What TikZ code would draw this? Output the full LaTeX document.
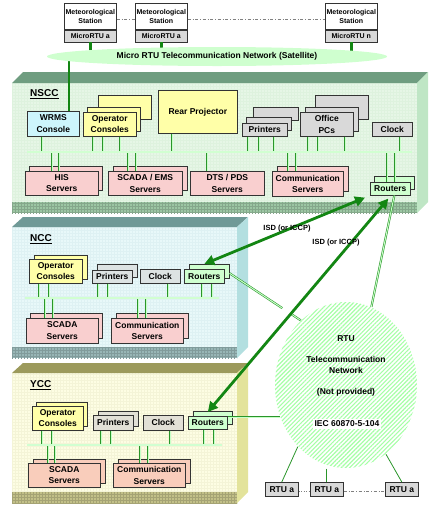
\documentclass[tikz,border=0pt]{standalone}
\usepackage{fontspec}
\setmainfont{Liberation Sans}
\usetikzlibrary{arrows.meta,shapes.geometric,shadows,patterns,patterns.meta,calc}

\definecolor{verde}{HTML}{2A952A}
\definecolor{verdeosc}{HTML}{138613}
\definecolor{amarillo}{HTML}{FFFFA8}
\definecolor{gris}{HTML}{D9D9D9}
\definecolor{grisazul}{HTML}{DDE3E3}
\definecolor{grisocre}{HTML}{E2E0D6}
\definecolor{rosa}{HTML}{F9CFCF}
\definecolor{salmon}{HTML}{F9CDBB}
\definecolor{celeste}{HTML}{CDF5FC}
\definecolor{verdeclaro}{HTML}{CFFFCF}
% caras de los marcos
\definecolor{nsccfr}{HTML}{E6F6E6}
\definecolor{nsccgr}{HTML}{DEF2DE}
\definecolor{nsccup}{HTML}{6F9D80}
\definecolor{nsccld}{HTML}{BFE6C5}
\definecolor{nsccbd}{HTML}{9CC6A3}
\definecolor{nccfr}{HTML}{E8F8F9}
\definecolor{nccgr}{HTML}{DEF1F3}
\definecolor{nccup}{HTML}{709A97}
\definecolor{nccld}{HTML}{B3DFE0}
\definecolor{nccbd}{HTML}{98B6B6}
\definecolor{yccfr}{HTML}{FDFDE3}
\definecolor{yccgr}{HTML}{F4F4D7}
\definecolor{yccup}{HTML}{9C9A5C}
\definecolor{yccld}{HTML}{E3E39B}
\definecolor{yccbd}{HTML}{C2C088}

\newcommand{\etiq}{\fontsize{8.5}{11.5}\selectfont\bfseries}
\newcommand{\pequ}{\fontsize{7}{9}\selectfont\bfseries}
\newcommand{\titu}{\fontsize{10}{12}\selectfont\bfseries}

\tikzset{
  caja/.style={draw=black!80, line width=0.6pt, inner sep=0pt, anchor=north west, align=center, font=\etiq},
  tam/.style 2 args={minimum width=#1pt, minimum height=#2pt},
  sombra/.style 2 args={copy shadow={shadow xshift=#1pt, shadow yshift=#2pt}},
  enlace/.style={draw=verde, line width=0.55pt, double=green!22, double distance=1pt},
  linea/.style={draw=verde, line width=0.8pt},
  bus/.style={draw=verde, line width=0.6pt, double=green!18, double distance=1.2pt},
  tubo/.style={draw=verdeosc, line width=2.6pt},
  flecha/.style={draw=verdeosc, line width=2.8pt, arrows={Triangle[length=10pt,width=10pt]-Triangle[length=10pt,width=10pt]}},
  titulo/.style={anchor=west, inner sep=0pt, font=\titu},
  punteo/.style={draw=gray, line width=0.5pt, dash dot},
}

\begin{document}
\begin{tikzpicture}[x=1pt, y=-1pt]
\useasboundingbox (0,0) rectangle (433,512);
% Marco NSCC
\fill[nsccfr] (12,83) rectangle (417,213);
\fill[pattern=grid, pattern color=nsccgr] (12,83) rectangle (417,202);
\fill[nsccbd] (12,202) rectangle (417,213);
\fill[pattern=grid, pattern color=nsccbd!85!black] (12,202) rectangle (417,213);
\fill[nsccup] (12,83) -- (23,72) -- (428,72) -- (417,83) -- cycle;
\fill[nsccld] (417,83) -- (428,72) -- (428,202) -- (417,213) -- cycle;
\node[titulo] (tnscc) at (30,94) {\underline{NSCC}};
% Marco NCC
\fill[nccfr] (12,227) rectangle (237,358);
\fill[pattern=grid, pattern color=nccgr] (12,227) rectangle (237,347);
\fill[nccbd] (12,347) rectangle (237,358);
\fill[pattern=grid, pattern color=nccbd!85!black] (12,347) rectangle (237,358);
\fill[nccup] (12,227) -- (23,217) -- (248,217) -- (237,227) -- cycle;
\fill[nccld] (237,227) -- (248,217) -- (248,347) -- (237,358) -- cycle;
\node[titulo] (tncc) at (30,239) {\underline{NCC}};
% Marco YCC
\fill[yccfr] (12,373) rectangle (237,503);
\fill[pattern=grid, pattern color=yccgr] (12,373) rectangle (237,492);
\fill[yccbd] (12,492) rectangle (237,503);
\fill[pattern=grid, pattern color=yccbd!85!black] (12,492) rectangle (237,503);
\fill[yccup] (12,373) -- (23,363) -- (248,363) -- (237,373) -- cycle;
\fill[yccld] (237,373) -- (248,363) -- (248,492) -- (237,503) -- cycle;
\node[titulo] (tycc) at (30,385) {\underline{YCC}};

% Estaciones meteorologicas
\node[caja, tam={52}{26}, fill=white, font=\pequ] (m1) at (64,3) {Meteorological\\Station};
\node[caja, tam={52}{12}, fill=gris, font=\pequ] (mr1) at (m1.south west) {MicroRTU a};
\node[caja, tam={52}{26}, fill=white, font=\pequ] (m2) at (135,3) {Meteorological\\Station};
\node[caja, tam={52}{12}, fill=gris, font=\pequ] (mr2) at (m2.south west) {MicroRTU a};
\node[caja, tam={52}{26}, fill=white, font=\pequ] (m3) at (325,3) {Meteorological\\Station};
\node[caja, tam={52}{12}, fill=gris, font=\pequ] (mr3) at (m3.south west) {MicroRTU n};
\draw[punteo] ([yshift=-3pt]m1.east) -- ([yshift=-3pt]m2.west);
\draw[punteo] ([yshift=-3pt]m2.east) -- ([yshift=-3pt]m3.west);

% NSCC
\node[caja, tam={52}{25}, fill=celeste] (wrms) at (27,111) {WRMS\\Console};
\node[caja, tam={53}{24}, fill=amarillo, sombra={15}{17}, sombra={4}{5}] (opa) at (83,112) {Operator\\Consoles};
\node[caja, tam={79}{43}, fill=amarillo] (proy) at (158,90) {Rear Projector};
\node[caja, tam={45}{13}, fill=gris, sombra={11}{16}, sombra={4}{6}] (imp) at (242,123) {Printers};
\node[caja, tam={53}{24}, fill=gris, sombra={15}{17}, sombra={5}{5}] (pcs) at (300,112) {Office\\PCs};
\node[caja, tam={40}{14}, fill=gris] (clk) at (372,122) {Clock};
\node[caja, tam={73}{24}, fill=rosa, sombra={4}{5}] (his) at (25,171) {HIS\\Servers};
\node[caja, tam={74}{24}, fill=rosa, sombra={5}{5}] (scada) at (108,171) {SCADA / EMS\\Servers};
\node[caja, tam={74}{24}, fill=rosa] (dts) at (190,171) {DTS / PDS\\Servers};
\node[caja, tam={71}{25}, fill=rosa, sombra={5}{5}] (com) at (272,171) {Communication\\Servers};
\node[caja, tam={40}{13}, fill=verdeclaro, sombra={4}{6}] (rs) at (370,182) {Routers};
\coordinate (busa) at (27,152);
\coordinate (busb) at (412,152);
\draw[enlace] (42,0 |- wrms.south) -- (42,0 |- busa);
\draw[enlace] (93,0 |- opa.south) -- (93,0 |- busa) (103,0 |- opa.south) -- (103,0 |- busa) (120,0 |- opa.south) -- (120,0 |- busa);
\draw[enlace] (172,0 |- proy.south) -- (172,0 |- busa);
\draw[enlace] (248,0 |- imp.south) -- (248,0 |- busa) (259,0 |- imp.south) -- (259,0 |- busa) (274,0 |- imp.south) -- (274,0 |- busa);
\draw[enlace] (308,0 |- pcs.south) -- (308,0 |- busa) (318,0 |- pcs.south) -- (318,0 |- busa) (345,0 |- pcs.south) -- (345,0 |- busa);
\draw[enlace] (400,0 |- clk.south) -- (400,0 |- busa);
\draw[enlace] (52,0 |- busa) -- (52,0 |- his.north) (59,0 |- busa) -- (59,0 |- his.north);
\draw[enlace] (128,0 |- busa) -- (128,0 |- scada.north) (136,0 |- busa) -- (136,0 |- scada.north);
\draw[enlace] (207,0 |- busa) -- (207,0 |- dts.north);
\draw[enlace] (288,0 |- busa) -- (288,0 |- com.north) (296,0 |- busa) -- (296,0 |- com.north);
\draw[enlace] (387,0 |- busa) -- (387,0 |- rs.north) (395,0 |- busa) -- (395,0 |- rs.north);
\draw[bus] (busa) -- (busb);

% NCC
\node[caja, tam={53}{24}, fill=amarillo, sombra={5}{4}] (opn) at (29,259) {Operator\\Consoles};
\node[caja, tam={40}{13}, fill=grisazul, sombra={5}{6}] (impn) at (92,270) {Printers};
\node[caja, tam={40}{14}, fill=grisazul] (clkn) at (140,269) {Clock};
\node[caja, tam={40}{14}, fill=verdeclaro, sombra={5}{5}] (rn) at (184,269) {Routers};
\node[caja, tam={72}{25}, fill=rosa, sombra={4}{5}] (scn) at (26,318) {SCADA\\Servers};
\node[caja, tam={72}{25}, fill=rosa, sombra={5}{5}] (comn) at (111,318) {Communication\\Servers};
\coordinate (busc) at (25,298);
\coordinate (busd) at (219,298);
\draw[enlace] (39,0 |- opn.south) -- (39,0 |- busc) (49,0 |- opn.south) -- (49,0 |- busc);
\draw[enlace] (98,0 |- impn.south) -- (98,0 |- busc) (108,0 |- impn.south) -- (108,0 |- busc);
\draw[enlace] (168,0 |- clkn.south) -- (168,0 |- busc);
\draw[enlace] (202,0 |- rn.south) -- (202,0 |- busc) (212,0 |- rn.south) -- (212,0 |- busc);
\draw[enlace] (45,0 |- busc) -- (45,0 |- scn.north) (53,0 |- busc) -- (53,0 |- scn.north);
\draw[enlace] (138,0 |- busc) -- (138,0 |- comn.north) (146,0 |- busc) -- (146,0 |- comn.north);
\draw[bus] (busc) -- (busd);

% YCC
\node[caja, tam={51}{24}, fill=amarillo, sombra={4}{4}] (opy) at (32,406) {Operator\\Consoles};
\node[caja, tam={40}{15}, fill=grisocre, sombra={5}{4}] (impy) at (93,415) {Printers};
\node[caja, tam={40}{15}, fill=grisocre] (clky) at (143,415) {Clock};
\node[caja, tam={39}{13}, fill=verdeclaro, sombra={5}{5}] (ry) at (188,416) {Routers};
\node[caja, tam={72}{24}, fill=salmon, sombra={5}{4}] (scy) at (28,463) {SCADA\\Servers};
\node[caja, tam={72}{24}, fill=salmon, sombra={5}{4}] (comy) at (113,463) {Communication\\Servers};
\coordinate (buse) at (27,445);
\coordinate (busf) at (222,445);
\draw[enlace] (42,0 |- opy.south) -- (42,0 |- buse) (52,0 |- opy.south) -- (52,0 |- buse);
\draw[enlace] (101,0 |- impy.south) -- (101,0 |- buse) (111,0 |- impy.south) -- (111,0 |- buse);
\draw[enlace] (170,0 |- clky.south) -- (170,0 |- buse);
\draw[enlace] (204,0 |- ry.south) -- (204,0 |- buse) (214,0 |- ry.south) -- (214,0 |- buse);
\draw[enlace] (48,0 |- buse) -- (48,0 |- scy.north) (55,0 |- buse) -- (55,0 |- scy.north);
\draw[enlace] (140,0 |- buse) -- (140,0 |- comy.north) (148,0 |- buse) -- (148,0 |- comy.north);
\draw[bus] (buse) -- (busf);

% Red satelital
\coordinate (satc) at (217,56.5);
\draw[tubo] (mr1.south) -- (mr1.south |- satc);
\draw[tubo] (mr2.south) -- (mr2.south |- satc);
\draw[tubo] (mr3.south) -- (mr3.south |- satc);
\draw[tubo] (69,0 |- satc) -- (69,0 |- wrms.north);
\node[ellipse, fill=verdeclaro, tam={340}{19}, inner sep=0pt, font=\etiq] (sat) at (satc) {Micro RTU Telecommunication Network (Satellite)};

% Red RTU
\node[ellipse, tam={142}{166}, inner sep=0pt, pattern={Lines[angle=45,distance=3pt,line width=1.1pt]}, pattern color=green!35] (rtunet) at (346,385) {};
\node[font=\etiq, align=center, inner sep=0pt] (rtutxt) at ([yshift=19pt]rtunet.center) {RTU\\[9pt]Telecommunication\\Network\\[9pt](Not provided)};
\node[fill=white, font=\etiq, inner sep=1.5pt] (iec) at (347,424) {IEC 60870-5-104};
\node[caja, tam={33}{14}, fill=gris] (ru1) at (265,482) {RTU a};
\node[caja, tam={33}{14}, fill=gris] (ru2) at (310,482) {RTU a};
\node[caja, tam={33}{14}, fill=gris] (ru3) at (385,482) {RTU a};
\draw[linea] (rtunet.232) -- (ru1.north);
\draw[linea] (ru2.north |- rtunet.south) -- (ru2.north);
\draw[linea] (rtunet.300) -- (ru3.north);
\draw[draw=gray, line width=0.5pt, dotted] ([yshift=-2pt]ru1.east) -- ([yshift=-2pt]ru2.west);
\draw[punteo] ([yshift=-2pt]ru2.east) -- ([yshift=-2pt]ru3.west);

% Enlaces de routers a la red RTU
\coordinate (rnx) at ([shift={(5pt,3pt)}]rn.east);
\draw[enlace] ([xshift=4pt]rs.south) -- (rtunet.72);
\draw[enlace] (rnx) -- ($(rnx)!0.74!(rtunet.125)$) ($(rnx)!0.87!(rtunet.125)$) -- (rtunet.125);
\draw[enlace] (ry.east |- rtunet.206) -- (rtunet.206);

% Flechas ISD
\draw[flecha] ([yshift=5pt]rn.north) -- ([shift={(-5pt,-2pt)}]rs.south west);
\draw[flecha] ([yshift=4pt]ry.north) -- ([shift={(-2pt,-3pt)}]rs.south);
\node[font=\fontsize{7.5}{9}\selectfont\bfseries] (isd1) at (287,229) {ISD (or ICCP)};
\node[font=\fontsize{7.5}{9}\selectfont\bfseries] (isd2) at (336,243) {ISD (or ICCP)};
\end{tikzpicture}
\end{document}
